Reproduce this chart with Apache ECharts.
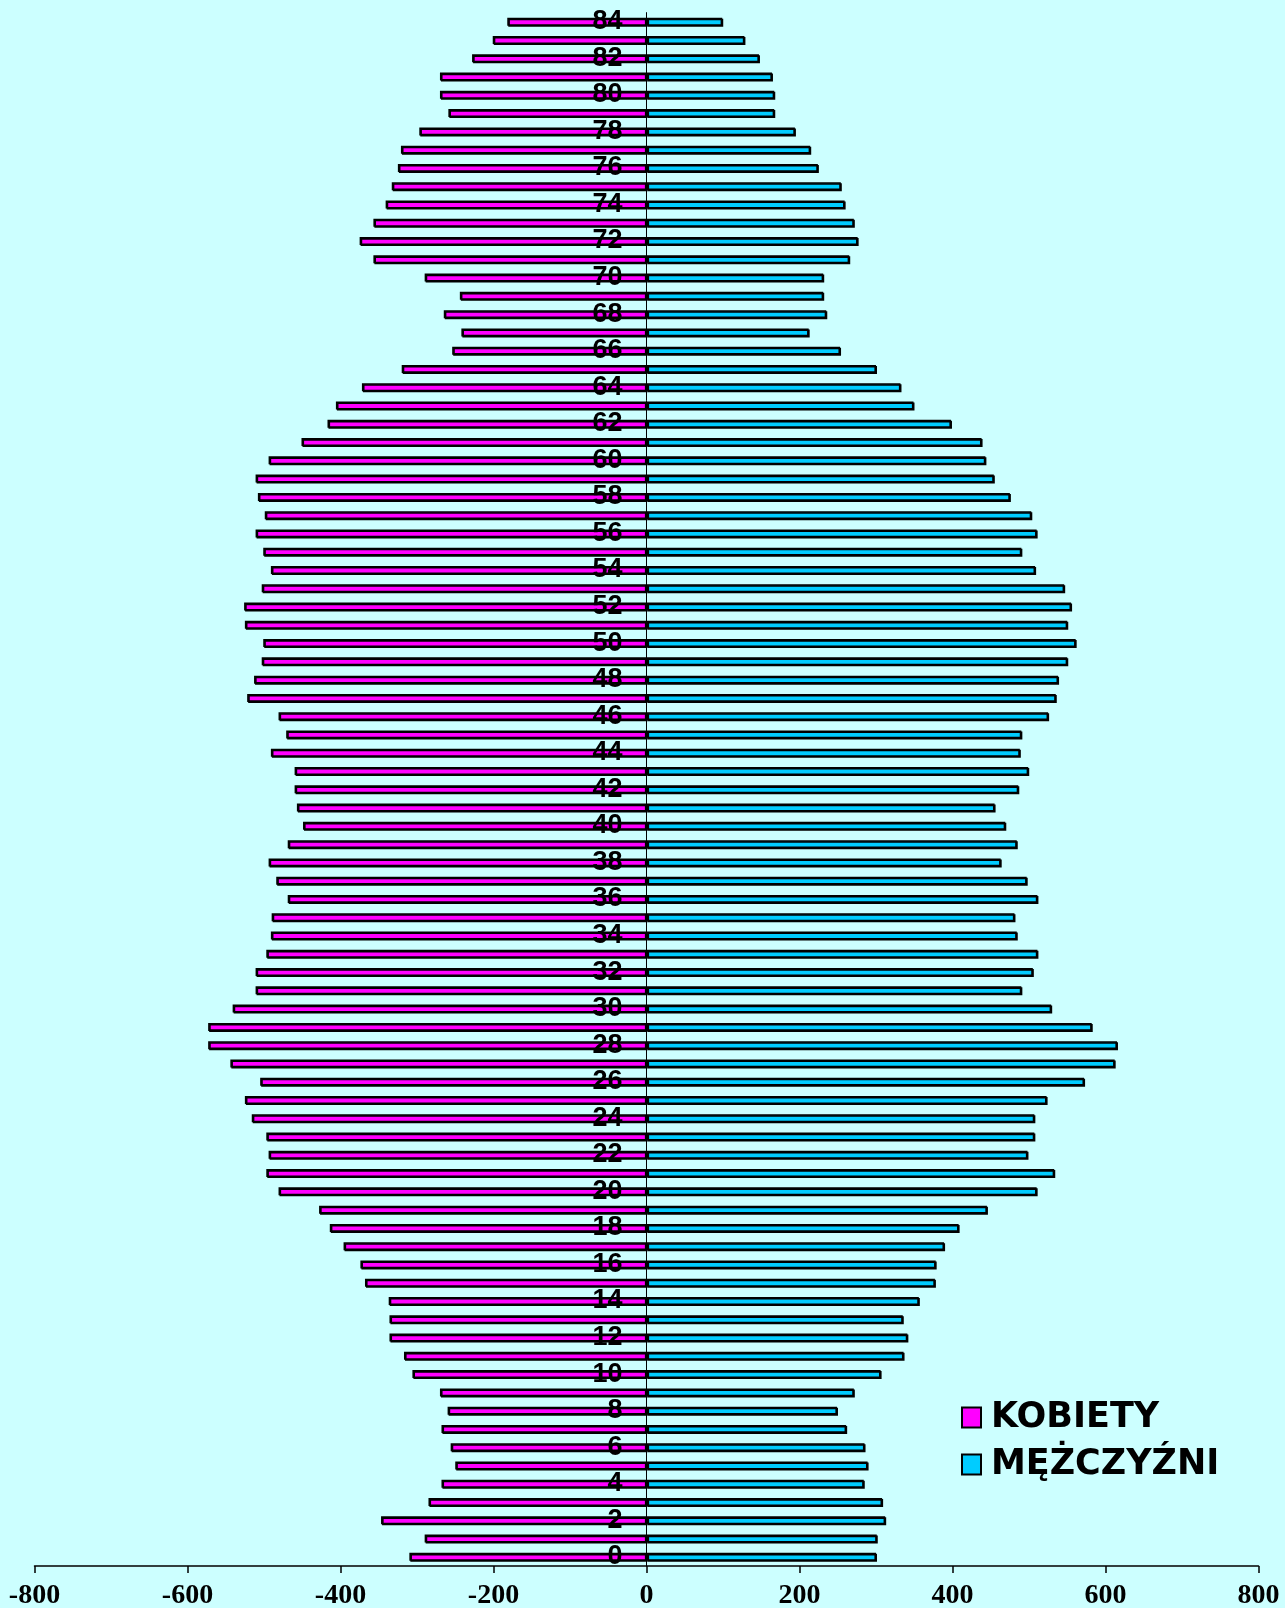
<!DOCTYPE html>
<html>
<head>
<meta charset="utf-8">
<script src="https://cdn.jsdelivr.net/npm/echarts@6/dist/echarts.min.js"></script>
<style>
html,body{margin:0;padding:0;background:#CCFFFF;}
#chart{width:1285px;height:1608px;}
</style>
</head>
<body>
<div id="chart"></div>
<script>
// Age groups 0..84 (bottom to top)
const ages = [];
for (let a = 0; a <= 84; a++) ages.push(String(a));

// Women (KOBIETY), ages 0..84 (shown to the left)
const kobiety = [
  310, 290, 347, 285, 268, 250, 256, 268, 260, 270,
  306, 317, 336, 336, 337, 368, 374, 396, 414, 428,
  481, 497, 494, 497, 516, 525, 505, 544, 573, 573,
  541, 511, 511, 497, 491, 490, 469, 484, 494, 469,
  449, 457, 460, 460, 491, 471, 481, 522, 513, 503,
  501, 525, 526, 503, 491, 501, 511, 499, 508, 511,
  494, 451, 417, 406, 372, 320, 254, 242, 265, 244,
  290, 357, 375, 357, 341, 333, 325, 321, 297, 259,
  270, 270, 228, 201, 182
];

// Men (MĘŻCZYŹNI), ages 0..84 (shown to the right)
const mezczyzni = [
  300, 301, 312, 308, 284, 289, 285, 261, 249, 271,
  306, 336, 341, 335, 356, 377, 378, 389, 408, 445,
  510, 533, 498, 507, 507, 523, 572, 612, 615, 582,
  529, 490, 505, 511, 484, 481, 511, 497, 463, 484,
  469, 455, 486, 499, 488, 490, 525, 535, 538, 550,
  561, 550, 555, 546, 508, 490, 510, 503, 475, 454,
  443, 438, 398, 349, 332, 300, 253, 212, 235, 231,
  231, 265, 276, 271, 259, 254, 224, 214, 194, 167,
  167, 164, 147, 128, 99
];

const xTicks = { min: -800, max: 800, interval: 200 };
const seriesNames = ['KOBIETY', 'MĘŻCZYŹNI'];

const W = 1285;
const gridLeft = 34.5, gridRight = 26.5;
const zeroOffset = -((W - gridLeft - gridRight) / 2);

const chart = echarts.init(document.getElementById('chart'), null, { renderer: 'canvas' });

const barStyle = (color) => ({
  color: color,
  borderColor: '#000000',
  borderWidth: 1.6,
  shadowColor: '#000000',
  shadowBlur: 0,
  shadowOffsetX: 1,
  shadowOffsetY: 1
});

chart.setOption({
  backgroundColor: '#CCFFFF',
  animation: false,
  grid: {
    left: gridLeft, right: gridRight, top: 12.6, bottom: 42,
    containLabel: false,
    outerBoundsMode: 'none'
  },
  legend: {
    orient: 'vertical',
    left: 961,
    top: 1400,
    padding: 0,
    itemGap: 12,
    itemWidth: 19,
    itemHeight: 20,
    icon: 'rect',
    data: seriesNames,
    textStyle: {
      fontFamily: 'DejaVu Sans',
      fontWeight: 'bold',
      fontSize: 35,
      color: '#000000',
      padding: [0, 0, 0, 5]
    }
  },
  xAxis: {
    type: 'value',
    min: xTicks.min,
    max: xTicks.max,
    interval: xTicks.interval,
    splitLine: { show: false },
    axisLine: { show: true, onZero: false, lineStyle: { color: '#000000', width: 1.5 } },
    axisTick: { show: true, length: 7, lineStyle: { color: '#000000', width: 1.5 } },
    axisLabel: {
      margin: 16,
      fontFamily: 'Liberation Serif',
      fontWeight: 'bold',
      fontSize: 28,
      color: '#000000'
    }
  },
  yAxis: {
    type: 'category',
    data: ages,
    z: 5,
    position: 'left',
    offset: zeroOffset,
    axisLine: { show: true, onZero: false, lineStyle: { color: '#000000', width: 1 } },
    axisTick: { show: false },
    axisLabel: {
      interval: 1,
      margin: 24,
      fontFamily: "'Liberation Sans Narrow', 'Liberation Sans', sans-serif",
      fontWeight: 'bold',
      fontSize: 27,
      color: '#000000'
    },
    splitLine: { show: false }
  },
  series: [
    {
      name: seriesNames[0],
      type: 'bar',
      stack: 'pop',
      barWidth: 8,
      data: kobiety.map(v => -v),
      itemStyle: barStyle('#FF00FF')
    },
    {
      name: seriesNames[1],
      type: 'bar',
      stack: 'pop',
      barWidth: 8,
      data: mezczyzni,
      itemStyle: barStyle('#00CCFF')
    }
  ]
});
</script>
</body>
</html>
